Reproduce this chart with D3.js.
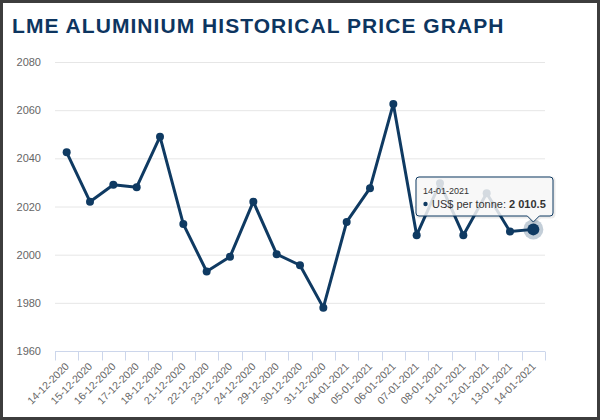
<!DOCTYPE html>
<html><head><meta charset="utf-8">
<script src="https://cdn.jsdelivr.net/npm/d3@7"></script>
<style>
html,body{margin:0;padding:0;background:#fff;}
body{width:600px;height:420px;overflow:hidden;}
#frame{position:absolute;left:0;top:0;width:594px;height:414px;border:3px solid #3d3d3d;background:#fff;}
svg{position:absolute;left:0;top:0;}
</style></head><body>
<div id="frame"></div>
<svg id="chart" width="600" height="420"></svg>
<script>
const categories = ["14-12-2020","15-12-2020","16-12-2020","17-12-2020","18-12-2020","21-12-2020","22-12-2020","23-12-2020","24-12-2020","29-12-2020","30-12-2020","31-12-2020","04-01-2021","05-01-2021","06-01-2021","07-01-2021","08-01-2021","11-01-2021","12-01-2021","13-01-2021","14-01-2021"];
const prices = [2042.5,2022,2029,2028,2049,2012.7,1993,1999.1,2022,2000.2,1995.6,1978,2013.6,2027.6,2062.6,2008.1,2029.7,2008.1,2025.5,2009.6,2010.5];
const yTicks = [1960,1980,2000,2020,2040,2060,2080];
const seriesName = "US$ per tonne";
const hoverIndex = 20;

(function(){
const navy = "#0f3a62";
const svg = d3.select("#chart");
const pLeft = 55, pRight = 545, pTop = 62, pBottom = 351;
const font = "Liberation Sans, Arial, sans-serif";

svg.append("text").attr("x",12).attr("y",33)
  .attr("font-family",font)
  .attr("font-weight","bold").attr("font-size",21).attr("letter-spacing","1.05px")
  .attr("fill","#0d3560").text("LME ALUMINIUM HISTORICAL PRICE GRAPH");

const x = d3.scaleBand().domain(categories).range([pLeft,pRight]);
const y = d3.scaleLinear().domain([1960,2080]).range([pBottom,pTop]);

const yAxis = d3.axisLeft(y).tickValues(yTicks).tickSize(-(pRight-pLeft)).tickFormat(d3.format("d"));
const gy = svg.append("g").attr("transform",`translate(${pLeft},0)`).call(yAxis);
gy.select(".domain").remove();
gy.selectAll(".tick line").attr("stroke","#e6e6e6").attr("stroke-width",1);
gy.selectAll(".tick text").attr("x",-14).attr("dy","0.32em").attr("fill","#666")
  .attr("font-family",font).attr("font-size",11);

const xAxis = d3.axisBottom(x).tickSize(0);
const gx = svg.append("g").attr("transform",`translate(0,${pBottom+0.5})`).call(xAxis);
gx.select(".domain").attr("stroke","#ccd6eb").attr("d",`M${pLeft},0H${pRight}`);
gx.selectAll(".tick line").remove();
const bounds = d3.range(categories.length+1).map(i=> i<categories.length ? x(categories[i]) : pRight);
gx.selectAll("line.bt").data(bounds).enter().append("line").attr("class","bt")
  .attr("x1",d=>Math.round(d)+0.5).attr("x2",d=>Math.round(d)+0.5).attr("y1",0).attr("y2",9)
  .attr("stroke","#ccd6eb");
gx.selectAll(".tick text").attr("fill","#666").attr("font-family",font)
  .attr("font-size",10.5).attr("text-anchor","end").attr("dy",null).attr("y",0)
  .attr("transform","translate(3,15.5) rotate(-45)");

const cx = d=>x(d)+x.bandwidth()/2;
const line = d3.line().x((d,i)=>cx(categories[i])).y(d=>y(d));
svg.append("path").datum(prices).attr("d",line).attr("fill","none")
  .attr("stroke",navy).attr("stroke-width",3).attr("stroke-linejoin","round");
svg.selectAll("circle.pt").data(prices).enter().append("circle").attr("class","pt")
  .attr("cx",(d,i)=>cx(categories[i])).attr("cy",d=>y(d)).attr("r",4).attr("fill",navy);

const hx = cx(categories[hoverIndex]), hy = y(prices[hoverIndex]);
svg.append("circle").attr("cx",hx).attr("cy",hy).attr("r",10).attr("fill",navy).attr("opacity",0.25);
svg.append("circle").attr("cx",hx).attr("cy",hy).attr("r",6).attr("fill",navy);

const tx0 = 416, ty0 = 177, tw = 137, th = 39;
const tip = svg.append("g");
const px = hx;
const pathD = `M${tx0+3},${ty0} H${tx0+tw-3} Q${tx0+tw},${ty0} ${tx0+tw},${ty0+3} V${ty0+th-3} Q${tx0+tw},${ty0+th} ${tx0+tw-3},${ty0+th} H${px+6} L${px},${ty0+th+6} L${px-6},${ty0+th} H${tx0+3} Q${tx0},${ty0+th} ${tx0},${ty0+th-3} V${ty0+3} Q${tx0},${ty0} ${tx0+3},${ty0} Z`;
tip.append("path").attr("d",pathD).attr("transform","translate(1,1)").attr("fill","none").attr("stroke","#000").attr("stroke-opacity",0.08).attr("stroke-width",3);
tip.append("path").attr("d",pathD).attr("fill","#f7f7f7").attr("fill-opacity",0.85).attr("stroke",navy).attr("stroke-width",1);
tip.append("text").attr("x",tx0+7).attr("y",ty0+17).attr("font-family",font)
  .attr("font-size",9).attr("fill","#333").text(categories[hoverIndex]);
tip.append("circle").attr("cx",tx0+9.5).attr("cy",ty0+27).attr("r",2.2).attr("fill",navy);
const t2 = tip.append("text").attr("x",tx0+16).attr("y",ty0+31).attr("font-family",font)
  .attr("font-size",11).attr("fill","#333");
t2.append("tspan").text(seriesName+": ");
t2.append("tspan").attr("font-weight","bold").text(d3.format(",.1f")(prices[hoverIndex]).replace(",", " "));
})();
</script>
</body></html>
